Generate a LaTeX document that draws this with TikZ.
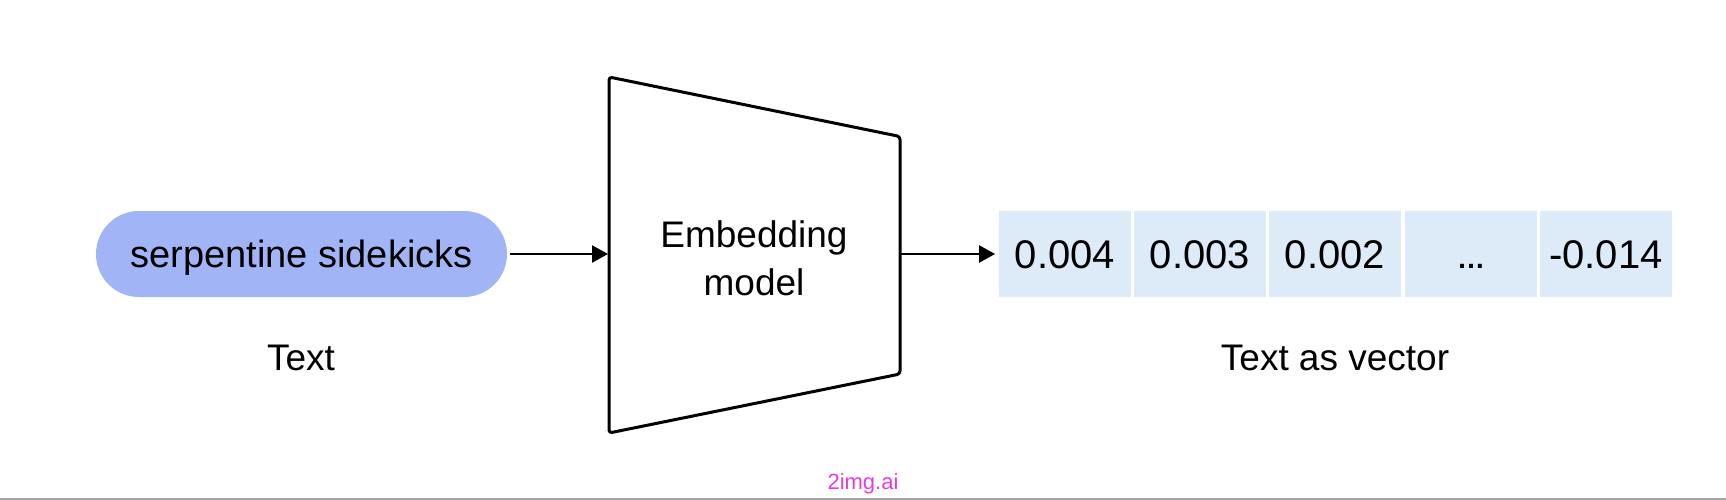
\documentclass[tikz,border=0pt]{standalone}
\usepackage{fontspec}
\setmainfont{Liberation Sans}
\usetikzlibrary{arrows.meta}
\definecolor{pillblue}{RGB}{161,180,245}
\definecolor{cellblue}{RGB}{221,234,248}
\definecolor{wmark}{RGB}{228,60,228}
\begin{document}
\begin{tikzpicture}[x=1pt,y=-1pt,
  lbl/.style={font=\fontsize{37}{46}\selectfont, inner sep=0pt, text=black},
  cellbox/.style={fill=cellblue, draw=none, minimum width=131.5pt, minimum height=86pt, inner sep=0pt, text height=29pt, text depth=0pt, font=\fontsize{40}{46}\selectfont},
  conn/.style={line width=2.5pt, -{Triangle[length=16pt,width=17pt]}},
  trapline/.style={line width=3pt, line join=round, rounded corners=3pt}]
\useasboundingbox (0,0) rectangle (1726,500);
\fill[white] (0,0) rectangle (1726,500);
% input pill
\node[fill=pillblue, rounded corners=43pt, minimum width=411pt, minimum height=86pt, inner sep=0pt, text height=27pt, text depth=0pt, font=\fontsize{38}{46}\selectfont] (pill) at (301.5,254) {serpentine sidekicks};
\node[lbl] (textlbl) at (301,358) {Text};
% trapezoid model
\coordinate (tl) at (609,77);
\coordinate (tr) at (900,136.5);
\coordinate (br) at (900,374);
\coordinate (bl) at (609,433);
\draw[trapline] (tl) -- (tr) -- (br) -- (bl) -- cycle;
\coordinate (modelin) at (609,254);
\coordinate (modelout) at (900,254);
\node[lbl, align=center, font=\fontsize{37}{48}\selectfont] (model) at (754,258) {Embedding\\model};
% vector cells
\node[cellbox] (c1) at (1065,254) {0.004};
\node[cellbox] (c2) at (1200,254) {0.003};
\node[cellbox] (c3) at (1335,254) {0.002};
\node[cellbox] (c4) at (1471,254) {\fontsize{28}{30}\selectfont\bfseries …};
\node[cellbox] (c5) at (1606,254) {-0.014};
\node[lbl] (veclbl) at (1335,358) {Text as vector};
% connectors
\draw[conn, shorten <=3pt, shorten >=1pt] (pill.east) -- (pill.east -| modelin);
\draw[conn, shorten >=4pt] (modelout) -- (c1.west |- modelout);
% watermark
\node[text=wmark, font=\fontsize{22}{26}\selectfont, inner sep=0pt] (wm) at (863,484) {2img.ai};
\draw[gray!70, line width=2pt] (0,499) -- (1726,499);
\end{tikzpicture}
\end{document}
